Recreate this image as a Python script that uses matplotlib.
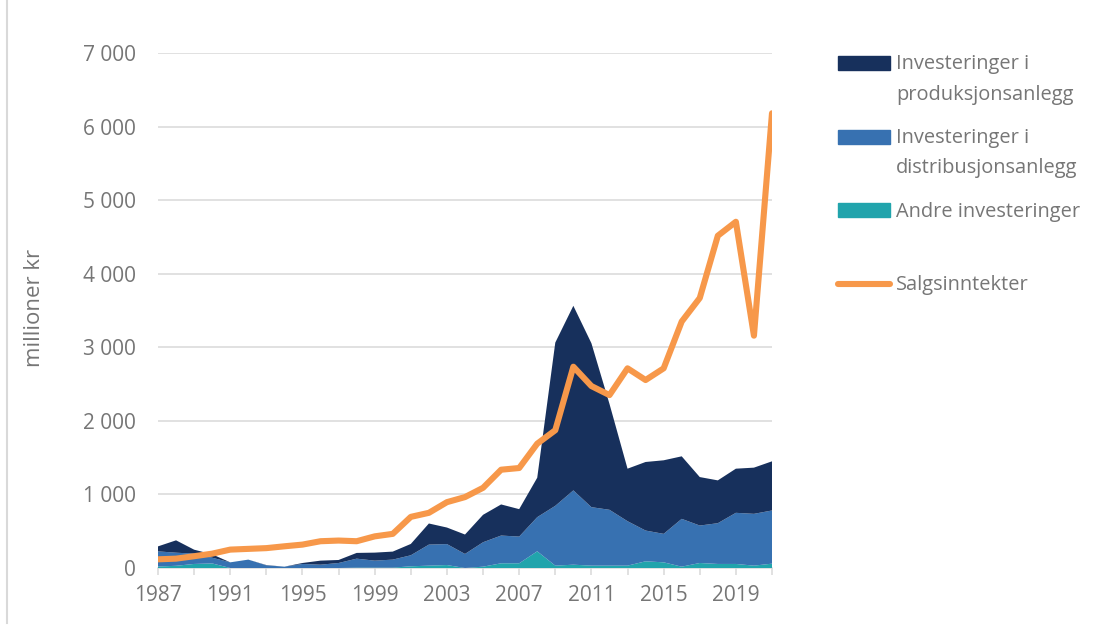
import matplotlib.pyplot as plt
from matplotlib.lines import Line2D
from matplotlib.patches import Rectangle

plt.rcParams['font.family'] = ['Open Sans', 'DejaVu Sans']

# Data (millioner kr)
years = list(range(1987, 2022))
andre = [20, 30, 55, 62, 0, 0, 0, 0, 0, 0, 0, 5, 5, 5, 23, 32, 40, 0, 18, 64,
         64, 227, 32, 45, 32, 32, 32, 91, 77, 18, 68, 55, 55, 32, 59]
distribusjon = [206, 178, 140, 78, 77, 114, 36, 18, 55, 45, 68, 122, 95, 109, 150, 286, 285, 191, 332, 377,
                363, 464, 813, 1010, 795, 759, 604, 418, 387, 650, 509, 554, 695, 704, 723]
produksjon = [68, 168, 54, 46, 0, 0, 4, 0, 13, 55, 41, 78, 109, 109, 154, 287, 225, 264, 373, 423,
              373, 536, 2219, 2509, 2228, 1440, 714, 932, 1000, 850, 659, 582, 600, 628, 668]
salg = [118, 127, 160, 195, 250, 260, 270, 295, 318, 364, 373, 364, 430, 464, 695, 750, 895, 964, 1090, 1336,
        1359, 1690, 1873, 2736, 2473, 2350, 2714, 2555, 2714, 3350, 3670, 4516, 4706, 3158, 6181]

labels = ["Investeringer i\nproduksjonsanlegg", "Investeringer i\ndistribusjonsanlegg",
          "Andre investeringer", "Salgsinntekter"]
c_prod = '#17305c'
c_dist = '#3771b1'
c_andre = '#21a4ac'
c_salg = '#f7984a'
grey_txt = '#767676'
grey_line = '#d9d9d9'

W, H = 1113, 625
fig = plt.figure(figsize=(W / 100, H / 100), dpi=100)
ax = fig.add_axes([158 / W, (H - 568) / H, (772 - 158) / W, (568 - 53) / H])

ax.stackplot(years, andre, distribusjon, produksjon,
             colors=[c_andre, c_dist, c_prod], linewidth=0, zorder=2)
ax.plot(years, salg, color=c_salg, lw=4.4, solid_capstyle='round',
        solid_joinstyle='round', zorder=3)

ax.set_xlim(1987, 2021)
ax.set_ylim(0, 7000)
ax.set_yticks(range(0, 7001, 1000))
ax.set_yticklabels([f"{v:,}".replace(",", " ") for v in range(0, 7001, 1000)])
ax.set_xticks(range(1987, 2022, 4))
ax.set_xticks(range(1987, 2022, 2), minor=True)
ax.grid(axis='y', color=grey_line, lw=1.1, zorder=0)
ax.set_axisbelow(True)

for s in ['top', 'right', 'left']:
    ax.spines[s].set_visible(False)
ax.spines['bottom'].set_color(grey_line)
ax.spines['bottom'].set_linewidth(1.1)
ax.spines['bottom'].set_zorder(1)

ax.tick_params(axis='y', length=0, pad=16, labelsize=15, labelcolor=grey_txt)
ax.tick_params(axis='x', which='both', length=5, width=1.1, color=grey_line,
               pad=7, labelsize=15, labelcolor=grey_txt)

fig.text(35 / W, 1 - 308 / H, "millioner kr", rotation=90, ha='center', va='center',
         fontsize=16, color=grey_txt)

# manual legend (pixel positions)
def fx(x):
    return x / W

def fy(y):
    return 1 - y / H

handles = [(c_prod, 63), (c_dist, 137), (c_andre, 210)]
for col, yc in handles:
    fig.add_artist(Rectangle((fx(838), fy(yc + 7)), (890 - 838) / W, 14 / H,
                             transform=fig.transFigure, color=col))
fig.add_artist(Line2D([fx(838), fx(890)], [fy(284), fy(284)], transform=fig.transFigure,
                      color=c_salg, lw=4.4, solid_capstyle='round'))

text_lines = [(labels[0].split("\n")[0], 69), (labels[0].split("\n")[1], 100),
              (labels[1].split("\n")[0], 143), (labels[1].split("\n")[1], 173),
              (labels[2], 217), (labels[3], 290)]
for t, yb in text_lines:
    fig.text(fx(896), fy(yb), t, ha='left', va='baseline', fontsize=14.4, color=grey_txt)

# frame edge on the left
fig.add_artist(Line2D([fx(7), fx(7)], [fy(0), fy(623)], transform=fig.transFigure,
                      color=grey_line, lw=1.5))

fig.savefig('out.png', dpi=100)
